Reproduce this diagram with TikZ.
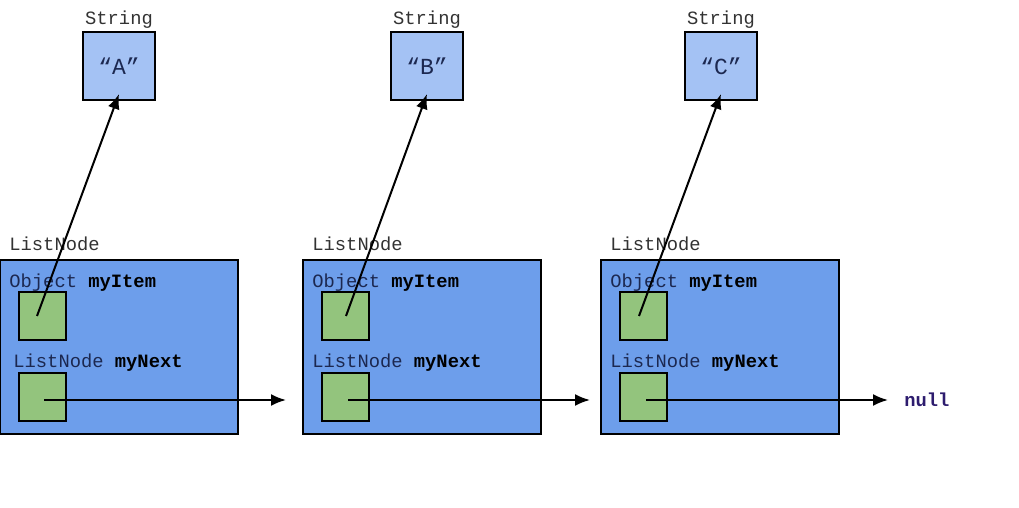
\documentclass[tikz,border=0pt]{standalone}
\usepackage{fontspec}
\setmainfont{Liberation Mono}
\usepackage{xcolor}
\usetikzlibrary{positioning,arrows.meta}
\definecolor{stringblue}{RGB}{164,194,244}
\definecolor{nodeblue}{RGB}{109,158,235}
\definecolor{fieldgreen}{RGB}{147,196,125}
\definecolor{typegray}{RGB}{50,50,50}
\definecolor{fieldnavy}{RGB}{28,40,80}
\definecolor{nullpurple}{RGB}{45,28,110}

\tikzset{
  strbox/.style={draw=black, line width=1pt, fill=stringblue, minimum width=36pt, minimum height=34pt, inner sep=0pt, font=\fontsize{11.5}{13}\selectfont, text=fieldnavy},
  listbox/.style={draw=black, line width=1pt, fill=nodeblue, minimum width=119pt, minimum height=87pt, inner sep=0pt},
  slot/.style={draw=black, line width=1pt, fill=fieldgreen, minimum width=23.5pt, minimum height=24pt, inner sep=0pt},
  typelbl/.style={font=\fontsize{9.4}{11}\selectfont, text=typegray, inner sep=0pt},
  fieldlbl/.style={font=\fontsize{9.4}{11}\selectfont, text=fieldnavy, inner sep=0pt, anchor=west},
  ref/.style={line width=1pt, -{Latex[length=7.5pt,width=6pt]}}
}

\begin{document}
\begin{tikzpicture}[x=0.5pt,y=-0.5pt]
    \useasboundingbox (0,0) rectangle (1019,508);

    % String objects
    \node[strbox] (strA) at (119,66) {“A”};
    \node[strbox] (strB) at (427,66) {“B”};
    \node[strbox] (strC) at (721,66) {“C”};
    \node[typelbl, above=1pt of strA] {String};
    \node[typelbl, above=1pt of strB] {String};
    \node[typelbl, above=1pt of strC] {String};

    % List nodes
    \node[listbox] (list1) at (119,347) {};
    \node[listbox] (list2) at (422,347) {};
    \node[listbox] (list3) at (720,347) {};
    \node[typelbl, anchor=south west] at ([shift={(5pt,4pt)}]list1.north west) {ListNode};
    \node[typelbl, anchor=south west] at ([shift={(5pt,4pt)}]list2.north west) {ListNode};
    \node[typelbl, anchor=south west] at ([shift={(5pt,4pt)}]list3.north west) {ListNode};

    % Fields
    \node[fieldlbl] at ([shift={(5pt,-12pt)}]list1.north west) {Object \textbf{\color{black}myItem}};
    \node[fieldlbl] at ([shift={(7pt,-52pt)}]list1.north west) {ListNode \textbf{\color{black}myNext}};
    \node[fieldlbl] at ([shift={(5pt,-12pt)}]list2.north west) {Object \textbf{\color{black}myItem}};
    \node[fieldlbl] at ([shift={(5pt,-52pt)}]list2.north west) {ListNode \textbf{\color{black}myNext}};
    \node[fieldlbl] at ([shift={(5pt,-12pt)}]list3.north west) {Object \textbf{\color{black}myItem}};
    \node[fieldlbl] at ([shift={(5pt,-52pt)}]list3.north west) {ListNode \textbf{\color{black}myNext}};

    \node[slot] (item1) at (42.5,316) {};
    \node[slot] (next1) at (42.5,397) {};
    \node[slot] (item2) at (345.5,316) {};
    \node[slot] (next2) at (345.5,397) {};
    \node[slot] (item3) at (643.5,316) {};
    \node[slot] (next3) at (643.5,397) {};

    % null end
    \node[font=\fontsize{9.4}{11}\selectfont\bfseries, text=nullpurple, anchor=west, inner sep=0pt] (null) at (904,400) {null};
    \coordinate (end1) at (286,400);
    \coordinate (end2) at (590,400);

    % References
    \draw[ref] ([xshift=-2.75pt]item1.center) -- ([yshift=3.5pt]strA.south);
    \draw[ref] ([xshift=0.25pt]item2.center) -- ([yshift=3.5pt]strB.south);
    \draw[ref] ([xshift=-2.25pt]item3.center) -- ([yshift=3.5pt]strC.south);
    \draw[ref] ([shift={(0.75pt,-1.5pt)}]next1.center) -- (end1);
    \draw[ref] ([shift={(1.25pt,-1.5pt)}]next2.center) -- (end2);
    \draw[ref, shorten >=8pt] ([shift={(1.25pt,-1.5pt)}]next3.center) -- (null.west);
\end{tikzpicture}
\end{document}
